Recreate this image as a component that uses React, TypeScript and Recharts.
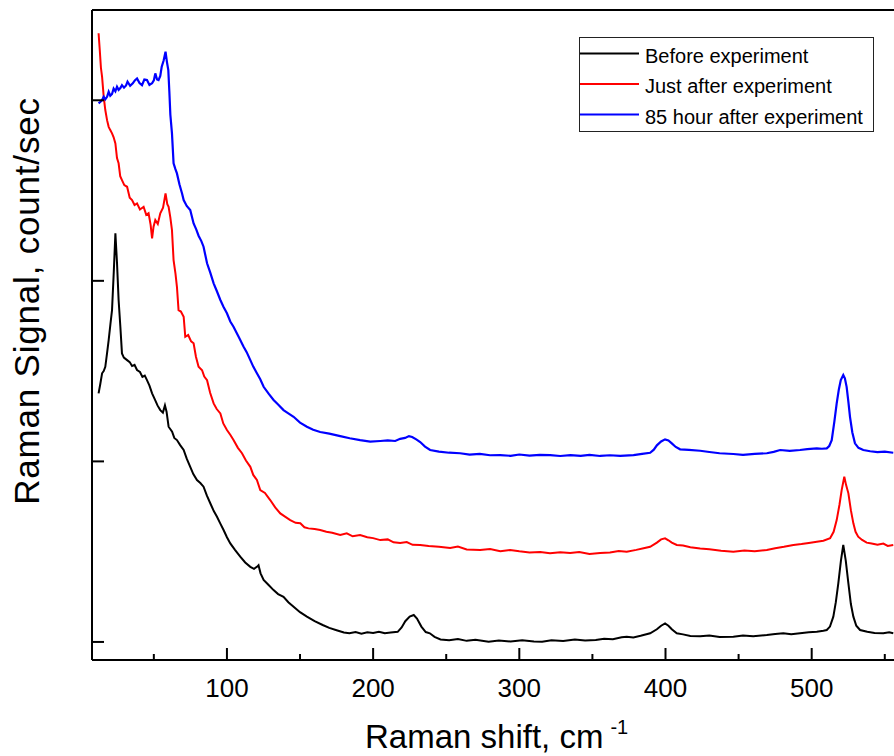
import { LineChart, Line, XAxis, YAxis, ReferenceLine, Legend } from "recharts";

// Raman shift (cm-1) vs signal; y in arbitrary units (ticks at 0/100/200/300)
const before: [number, number][] = [
  [12.2, 137.7], [13.4, 143], [14.6, 148.8], [15.7, 150], [16.8, 152.4], [18.0, 160], [19.1, 167.2],
  [20.3, 176], [21.4, 183.8], [22.6, 205], [23.7, 226.3], [24.8, 210], [25.9, 189.4], [27.1, 174.6],
  [28.2, 159.8], [29.5, 157.5], [31.7, 156.1], [33.5, 155], [35.1, 152.8], [36.8, 153.5], [38.5, 150.6],
  [40.5, 149.5], [42.2, 146.8], [43.8, 147.5], [45.3, 145], [47, 142], [48.8, 137.7], [50.6, 134.5],
  [52.5, 131], [54.4, 128.4], [56.2, 127], [57.6, 131], [58.7, 127.5], [60.1, 119.2], [62.5, 116.5],
  [64, 113], [65.8, 111.8], [68, 109], [70.4, 106.3], [72.5, 101.5], [74.9, 97], [77, 93], [79.5, 89.7],
  [81.8, 88], [84, 86], [86.3, 81], [88.6, 76.8], [91, 72.5], [93.2, 69.3], [95.5, 65.5], [97.7, 62],
  [100, 58], [102.3, 54.6], [105.5, 51], [109.1, 47.2], [112.5, 44], [116, 41.6], [118.5, 40.5],
  [120.5, 41.6], [121.6, 42.5], [123, 38], [125.1, 34.3], [128.5, 31.5], [131.9, 28.7], [135, 26.5],
  [138.7, 25], [142, 22], [145.6, 19.5], [150, 16.5], [154.7, 14], [160, 11.5], [165.5, 9.4], [170, 7.8],
  [175, 6.5], [180, 5.2], [183.8, 4.8], [188, 5.5], [192, 4.6], [196, 5.3], [200, 4.9], [204, 5.6],
  [208, 4.8], [212, 5.2], [216.8, 5.6], [219.5, 8], [222, 11.5], [225, 14], [227.8, 14.9], [230, 13],
  [233, 8.5], [236, 5.5], [238.8, 4.8], [242, 2.8], [246.1, 1.4], [252, 1.0], [258, 1.6], [264, 0.6],
  [270, 1.2], [279, 0.1], [286, 0.8], [294, 0.2], [302, 0.9], [310, 0.3], [315.6, 0.1], [322, 0.9],
  [330, 0.5], [338, 1.3], [345, 0.8], [352.3, 1.1], [358, 1.8], [364, 1.5], [370, 2.6], [373.5, 2.9],
  [378, 2.5], [383, 3.4], [389.5, 4.8], [394.1, 7], [397, 9], [399.7, 10.3], [402, 9], [404.3, 7],
  [407.7, 4.8], [412, 4.2], [417, 3.3], [423.7, 3.1], [430, 3.6], [437, 2.8], [446.4, 2.9], [453, 3.5],
  [460, 3.1], [469.3, 3.8], [475, 4.4], [480.6, 4.8], [486, 4.3], [492, 4.8], [498, 5.4], [503.5, 5.6],
  [508, 6.2], [510.3, 6.6], [512.5, 8.5], [514.8, 14], [516.5, 22], [518.2, 32.5], [520, 45],
  [521.6, 53.7], [523.3, 45], [525.1, 32.5], [526.8, 21], [528.5, 14], [530.5, 9], [533.1, 6.6],
  [538, 5.6], [543, 5.0], [549, 4.8], [553, 5.3], [555.8, 4.8],
];

const justAfter: [number, number][] = [
  [12.2, 337.1], [13.0, 328], [13.8, 318], [14.6, 313], [15.7, 302], [16.8, 294.6], [18, 289],
  [19.1, 285.3], [20.2, 283.5], [21.4, 281.7], [22.5, 279.5], [23.7, 276.1], [24.8, 268], [25.9, 265.1],
  [27, 258], [28.2, 255.8], [29.8, 253], [31.7, 252.1], [33.5, 246], [35.1, 244.7], [36.8, 242],
  [38.5, 242.9], [40.5, 239.5], [43, 241], [44.8, 236.5], [46.4, 237.4], [47.8, 231], [48.8, 223.5],
  [49.8, 230], [51, 233.7], [52.7, 231.5], [54.4, 237.4], [56.3, 240.5], [58, 248.4], [59.2, 242.5],
  [60.1, 241], [61.3, 235], [62.4, 228.1], [63.5, 211.5], [64.8, 204], [65.8, 196.7], [66.9, 183.8],
  [68.5, 183], [70.4, 180.1], [71.5, 169], [73.5, 170], [75.5, 166.5], [77.2, 165.4], [78.8, 158],
  [80.6, 152.4], [83, 150.5], [84.5, 147], [86.4, 145], [88.5, 138], [90.9, 132.1], [93, 129],
  [95.5, 126.6], [97.5, 121], [100, 117.4], [102.5, 114.5], [104.5, 111.8], [107.5, 107.5],
  [110.3, 104.5], [113, 100.5], [116, 97], [118, 92.5], [120.5, 89.7], [122.8, 84.1], [126, 82.5],
  [129.6, 78.6], [133, 74.5], [136.5, 71.2], [140, 69.3], [143.3, 67.5], [147, 66], [150.2, 65.7],
  [153, 63.5], [155.8, 62.9], [160, 62.5], [163.8, 62], [168, 61], [172, 60.5], [177.5, 59.2],
  [182, 60.2], [186, 58.5], [191.1, 59.2], [196, 58], [200, 57.5], [204.9, 56.4], [210, 56.8],
  [214, 55.2], [218.5, 54.8], [223, 55.3], [227, 53.8], [232.2, 53.7], [238, 53.1], [245, 52.7],
  [252.7, 52], [258, 52.8], [264, 51.2], [273.2, 50.9], [280, 51.5], [287, 50.3], [293.7, 50.9],
  [300, 50.2], [307, 49.6], [314.3, 49.8], [321, 49.1], [328, 49.7], [334.8, 49.2], [341, 49.8],
  [348, 48.7], [355.3, 49.2], [362, 49.6], [368, 50.4], [373.5, 50], [380, 51], [385, 51.9],
  [389.5, 52.7], [394.1, 55], [397, 56.8], [399.7, 57.4], [402, 56.3], [404.3, 55], [407.7, 53.7],
  [412, 53.4], [417, 52.5], [423.7, 51.8], [430, 51.3], [438, 50.5], [446.4, 50], [454, 50.6],
  [461, 50.2], [469.3, 50.9], [475, 51.9], [481, 52.7], [487.5, 53.7], [493, 54.2], [498, 54.8],
  [503.5, 55.5], [508, 56.1], [512.6, 57.4], [515, 61], [517.1, 67.5], [519, 76], [520.5, 84.1],
  [522.3, 91.5], [523.5, 87], [525.1, 82.3], [526.8, 73], [528.5, 65.7], [530, 61], [531.8, 58.3],
  [534.5, 56.5], [537.6, 55], [541, 54.5], [545, 53.8], [549, 54.5], [552, 53.2], [555.8, 53.7],
];

const after85h: [number, number][] = [
  [12.2, 298.3], [13.5, 299.2], [14.6, 300.1], [15.7, 301.9], [16.8, 300.5], [18, 301.9], [19.1, 304.7],
  [20.2, 302.5], [21.4, 303.5], [22.5, 306.5], [23.7, 305], [24.8, 307.5], [25.9, 305.8], [27.1, 306.8],
  [28.2, 308.4], [29.6, 307], [31, 308.2], [32, 310.3], [33.8, 308], [35.6, 309.4], [37, 311],
  [38.5, 312.1], [40.2, 309.5], [41.9, 308.4], [43.5, 311.5], [45.3, 311.2], [47, 308.5], [48.8, 309.4],
  [50, 311], [51, 314.9], [52.2, 311.5], [53.2, 311.2], [54.4, 313.5], [55.4, 318.6], [56.7, 322],
  [58, 326.9], [59, 321], [59.9, 316.7], [60.6, 305], [61.3, 292], [62.4, 281.7], [63.5, 265.1],
  [64.7, 262], [65.8, 259.5], [67.5, 253.5], [69.3, 248.4], [70.4, 244.7], [72.5, 241.5], [74.9, 239.2],
  [77.2, 231.8], [79, 228.5], [80.6, 225], [82.5, 222], [84, 218.9], [86.4, 209.7], [88.6, 204.5],
  [90.9, 198.6], [93, 194.5], [95.5, 189.4], [97.7, 185.5], [100, 182], [102.3, 177.5], [104.5, 174.6],
  [108, 169], [111.4, 163.5], [113.5, 160.5], [116, 156.1], [118, 152.5], [120.5, 148.8], [122.8, 145.5],
  [125.1, 141.3], [128.5, 137.5], [131.9, 134], [135, 131.5], [138.7, 128.4], [142, 126.6], [145.6, 124.7],
  [150, 121.5], [154.7, 119.2], [159, 117.5], [163.8, 116.3], [170, 115.4], [177.5, 114], [184, 112.8],
  [191.1, 111.8], [198, 111], [204.9, 111.3], [210, 111.6], [215.1, 111.3], [218.5, 112.5], [221.9, 113],
  [224.5, 114], [226.7, 113.5], [229.5, 112.2], [232.2, 110.7], [235.5, 108.2], [239, 106.3], [245, 105.4],
  [252, 104.8], [259.5, 104.5], [266, 103.7], [273, 104.2], [280, 103.4], [286.9, 103.5], [294, 103.1],
  [300, 103.8], [307, 103.2], [314, 103.6], [321.1, 103.5], [328, 103], [335, 103.5], [342, 103.1],
  [348, 103.6], [355.3, 103], [362, 103.4], [369, 103.1], [378.1, 103.5], [384, 104.2], [389.5, 104.8],
  [392, 106.5], [394.1, 108.9], [397, 111], [399.7, 112.2], [402, 111.6], [404.3, 110], [407, 108],
  [410, 106.7], [416, 106.4], [423.7, 105.9], [430, 105.2], [437, 104.5], [446.4, 104.1], [453, 103.6],
  [461, 104.2], [469.3, 104.5], [474, 105.3], [478.4, 106.3], [485, 105.8], [492, 106.3], [497, 106.8],
  [503.5, 107.2], [507, 107], [510.3, 107.2], [512, 108.5], [513.7, 111.8], [515.5, 122], [517.1, 132.1],
  [518.6, 140], [519.9, 145], [521.6, 147.8], [522.7, 146], [523.9, 141.3], [525.1, 133], [526.2, 124.7],
  [527.8, 116], [529.6, 110], [532, 107.5], [535.3, 106.3], [540, 105.6], [545, 105.1], [550, 105.4],
  [555.8, 104.8],
];

const seriesNames = ["Before experiment", "Just after experiment", "85 hour after experiment"];
const xTicks = [50, 100, 150, 200, 250, 300, 350, 400, 450, 500, 550];
const yTicks = [0, 100, 200, 300];

const FONT = "'Liberation Sans', Arial, sans-serif";

const toPoints = (arr: [number, number][]) => arr.map(([x, y]) => ({ x, y }));

function XTick({ x, y, payload }: any) {
  const major = payload.value % 100 === 0;
  return (
    <g>
      <line x1={x} x2={x} y1={y} y2={y - (major ? 12 : 6)} stroke="#000" strokeWidth={2} />
      {major && (
        <text x={x} y={y + 37} textAnchor="middle" fontSize={26} fontFamily={FONT} fill="#000">
          {payload.value}
        </text>
      )}
    </g>
  );
}

function YTick({ x, y }: any) {
  return <line x1={x} x2={x + 12} y1={y} y2={y} stroke="#000" strokeWidth={2} />;
}

function LegendBox({ payload }: any) {
  // keep the drawing order of the series, not the alphabetical one
  const items = seriesNames
    .map((n) => (payload || []).find((p: any) => p.value === n))
    .filter(Boolean);
  return (
    <svg width={295} height={95} style={{ display: "block" }}>
      <rect x={0.5} y={0.5} width={294} height={94} fill="#fff" stroke="#222" strokeWidth={1} />
      {items.map((p: any, i: number) => (
        <g key={p.value}>
          <line x1={1} x2={60} y1={16.6 + i * 30.4} y2={16.6 + i * 30.4} stroke={p.color} strokeWidth={2} />
          <text x={66} y={25.8 + i * 30.4} fontSize={20} fontFamily={FONT} fill="#000">
            {p.value}
          </text>
        </g>
      ))}
    </svg>
  );
}

export default function App() {
  return (
    <div style={{ position: "absolute", left: 0, top: 0 }}>
      <LineChart width={894} height={756} margin={{ top: 10, right: 0, bottom: 0, left: 0 }}>
        <XAxis
          dataKey="x"
          type="number"
          domain={[7.7, 556.3]}
          ticks={xTicks}
          interval={0}
          tickSize={0}
          tickMargin={0}
          tickLine={false}
          tick={<XTick />}
          height={96}
          axisLine={{ stroke: "#000", strokeWidth: 2 }}
          label={{
            content: () => (
              <text x={365} y={748} fontSize={33} fontFamily={FONT} fill="#000">
                Raman shift, cm
                <tspan dx={7} dy={-14} fontSize={20}>
                  -1
                </tspan>
              </text>
            ),
          }}
        />
        <YAxis
          type="number"
          domain={[-10, 350]}
          ticks={yTicks}
          interval={0}
          tickSize={0}
          tickMargin={0}
          tickLine={false}
          tick={<YTick />}
          width={92}
          axisLine={{ stroke: "#000", strokeWidth: 2 }}
          label={{
            content: () => (
              <text
                x={39}
                y={301}
                transform="rotate(-90 39 301)"
                textAnchor="middle"
                fontSize={35}
                letterSpacing={0.8}
                fontFamily={FONT}
                fill="#000"
              >
                Raman Signal, count/sec
              </text>
            ),
          }}
        />
        <ReferenceLine y={350} stroke="#000" strokeWidth={2} />
        <Legend
          layout="vertical"
          align="center"
          verticalAlign="middle"
          content={<LegendBox />}
          wrapperStyle={{ left: 579, top: 37, width: 295, height: 95 }}
        />
        <Line
          data={toPoints(before)}
          dataKey="y"
          name={seriesNames[0]}
          stroke="#000000"
          strokeWidth={2}
          dot={false}
          type="linear"
          isAnimationActive={false}
        />
        <Line
          data={toPoints(justAfter)}
          dataKey="y"
          name={seriesNames[1]}
          stroke="#ff0000"
          strokeWidth={2}
          dot={false}
          type="linear"
          isAnimationActive={false}
        />
        <Line
          data={toPoints(after85h)}
          dataKey="y"
          name={seriesNames[2]}
          stroke="#0000ff"
          strokeWidth={2.2}
          dot={false}
          type="linear"
          isAnimationActive={false}
        />
      </LineChart>
    </div>
  );
}
